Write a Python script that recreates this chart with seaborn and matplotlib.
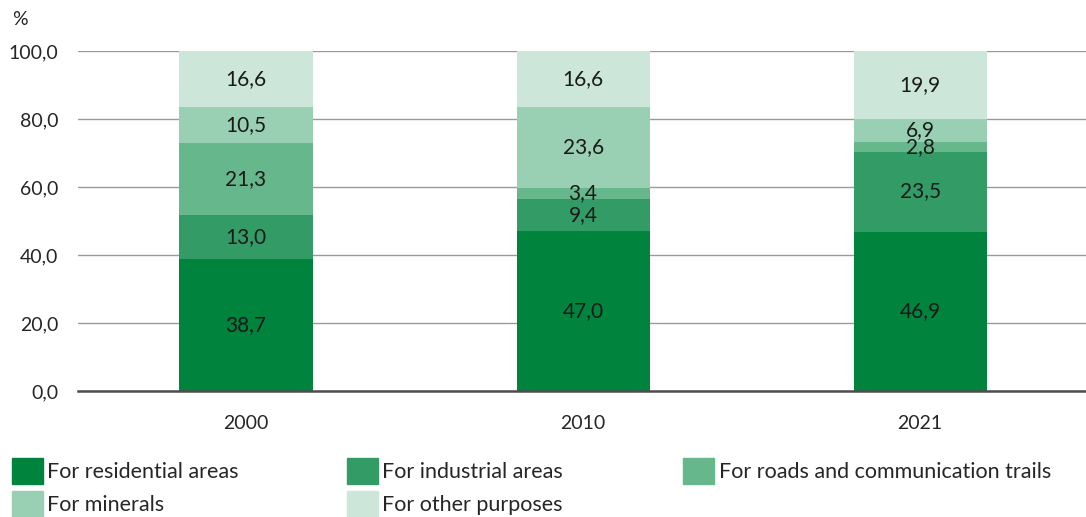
import matplotlib
matplotlib.use("Agg")
import matplotlib.pyplot as plt
import matplotlib.patches as mpatches
import seaborn as sns
import pandas as pd
import numpy as np

# --- Data ---
years = ["2000", "2010", "2021"]
categories = ["For residential areas", "For industrial areas",
              "For roads and communication trails", "For minerals",
              "For other purposes"]
residential = [38.7, 47.0, 46.9]
industrial = [13.0, 9.4, 23.5]
roads = [21.3, 3.4, 2.8]
minerals = [10.5, 23.6, 6.9]
other = [16.6, 16.6, 19.9]
yticks = [0, 20, 40, 60, 80, 100]

colors = ["#00843D", "#339B65", "#66B78C", "#99CFB2", "#CCE6D9"]

series = [residential, industrial, roads, minerals, other]
df = pd.DataFrame({"year": years})
for name, vals in zip(categories, series):
    df[name] = vals
cum = df[categories].cumsum(axis=1)
cum.iloc[:, -1] = 100.0  # top segment reaches the 100 line

sns.set_style("white")
plt.rcParams["font.family"] = ["Lato", "DejaVu Sans"]

fig = plt.figure(figsize=(10.86, 5.17), dpi=100)
ax = fig.add_axes([0.0714, 0.2437, 0.931, 0.6577])

# --- Stacked bars: draw cumulative totals from the top down ---
for i in range(len(categories) - 1, -1, -1):
    sns.barplot(x=df["year"], y=cum.iloc[:, i], color=colors[i],
                width=0.395, saturation=1, linewidth=0, ax=ax, zorder=2)

# --- Value labels ---
for j in range(len(years)):
    base = 0
    for i, vals in enumerate(series):
        mid = base + vals[j] / 2
        ax.text(j, mid, f"{vals[j]:.1f}".replace(".", ","), ha="center",
                va="center", fontsize=15, color="#1a1a1a", zorder=3)
        base += vals[j]

ax.set_ylim(0, 100)
ax.set_xlim(-0.5, 2.5)
ax.set_yticks(yticks)
ax.set_yticklabels([f"{v:.1f}".replace(".", ",") for v in yticks], fontsize=14)
ax.tick_params(axis="x", labelsize=14, length=0, pad=17)
ax.tick_params(axis="y", length=0, pad=14)
ax.set_xlabel("")
ax.set_ylabel("")
ax.grid(axis="y", color="#9a9a9a", linewidth=1.0, zorder=0)
ax.set_axisbelow(True)
for s in ["top", "right", "left"]:
    ax.spines[s].set_visible(False)
ax.spines["bottom"].set_color("#4d4d4d")
ax.spines["bottom"].set_linewidth(1.8)
ax.spines["bottom"].set_zorder(4)

fig.text(0.011, 0.963, "%", fontsize=14, ha="left", va="center")

# --- Legend, three columns placed by hand ---
handles = [mpatches.Patch(color=c, label=l) for c, l in zip(colors, categories)]
columns = [[0, 3], [1, 4], [2]]
xs = [0.011, 0.3195, 0.629]
for xpos, idx in zip(xs, columns):
    fig.legend(handles=[handles[k] for k in idx], loc="upper left",
               bbox_to_anchor=(xpos, 0.114), frameon=False, fontsize=15.5,
               handlelength=1.45, handleheight=1.5, handletextpad=0.2,
               labelspacing=0.3, borderaxespad=0, borderpad=0)

fig.savefig("out.png", dpi=100)
